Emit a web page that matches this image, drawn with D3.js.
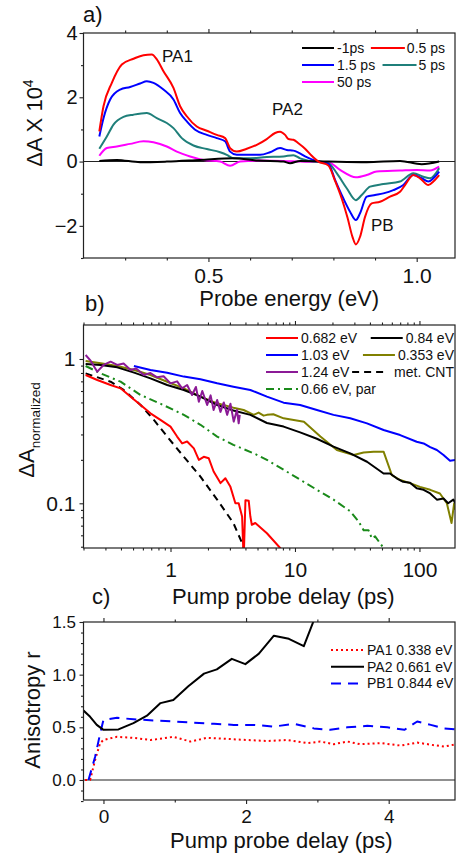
<!DOCTYPE html>
<meta charset="utf-8">

<style>

body {
  margin: 0;
  background: #fff;
}

svg.fig text {
  font-family: "Liberation Sans", Arial, sans-serif;
  fill: #111;
}

svg.fig .frame {
  fill: none;
  stroke: #222;
  stroke-width: 1.2;
}

svg.fig .axis path {
  display: none;
}

svg.fig .axis line {
  stroke: #222;
  stroke-width: 1.1;
}

svg.fig .curve {
  fill: none;
  stroke-width: 2;
  stroke-linejoin: round;
}

</style>


<svg class="fig" width="456" height="859"></svg>


<script src="https://d3js.org/d3.v7.min.js"></script>

<script>

// ---- panel a: transient spectra, [probe energy (eV), dA x 1e4]
var specM1 = [[0.238,0.02],[0.28,0.05],[0.336,-0.02],[0.4,0.0],[0.48,0.05],[0.56,0.1],[0.62,0.03],[0.68,0.0],[0.696,-0.05],[0.72,0.02],[0.788,0.0],[0.88,-0.02],[0.96,0.02],[1.012,-0.08],[1.054,0.0]];
var spec05 = [[0.238,0.94],[0.248,1.72],[0.268,2.45],[0.292,3.02],[0.32,3.2],[0.344,3.31],[0.364,3.33],[0.376,3.18],[0.392,2.81],[0.416,2.29],[0.432,1.72],[0.448,1.41],[0.472,1.09],[0.496,0.96],[0.52,0.83],[0.54,0.73],[0.552,0.42],[0.568,0.31],[0.592,0.40],[0.616,0.52],[0.64,0.70],[0.66,0.89],[0.672,0.93],[0.684,0.83],[0.692,0.70],[0.704,0.68],[0.716,0.57],[0.732,0.40],[0.748,0.18],[0.764,0.0],[0.788,-0.12],[0.804,-0.6],[0.82,-1.15],[0.834,-1.75],[0.846,-2.35],[0.854,-2.58],[0.864,-2.34],[0.876,-1.72],[0.892,-1.30],[0.912,-1.25],[0.936,-1.09],[0.96,-0.94],[0.972,-0.73],[0.992,-0.42],[1.008,-0.52],[1.028,-0.73],[1.04,-0.62],[1.054,-0.42]];
var spec15 = [[0.238,0.78],[0.248,1.35],[0.264,1.93],[0.288,2.24],[0.312,2.32],[0.336,2.43],[0.352,2.5],[0.368,2.45],[0.392,2.24],[0.416,1.93],[0.432,1.51],[0.448,1.25],[0.468,0.99],[0.496,0.83],[0.52,0.73],[0.54,0.63],[0.552,0.31],[0.568,0.21],[0.592,0.21],[0.624,0.21],[0.648,0.29],[0.672,0.42],[0.688,0.36],[0.704,0.34],[0.716,0.28],[0.732,0.16],[0.756,0.03],[0.788,-0.07],[0.804,-0.57],[0.824,-1.15],[0.84,-1.56],[0.854,-1.82],[0.864,-1.61],[0.88,-1.09],[0.9,-1.04],[0.92,-0.99],[0.944,-0.89],[0.968,-0.73],[0.992,-0.42],[1.012,-0.52],[1.028,-0.62],[1.04,-0.52],[1.054,-0.31]];
var spec5 = [[0.238,0.4],[0.256,0.78],[0.272,1.15],[0.296,1.39],[0.32,1.46],[0.352,1.51],[0.376,1.35],[0.4,1.2],[0.416,1.04],[0.436,0.73],[0.464,0.5],[0.496,0.39],[0.528,0.29],[0.544,0.21],[0.56,0.10],[0.592,0.10],[0.64,0.14],[0.68,0.16],[0.704,0.2],[0.72,0.1],[0.744,0.02],[0.788,-0.05],[0.808,-0.36],[0.832,-0.83],[0.854,-1.2],[0.868,-1.04],[0.888,-0.78],[0.92,-0.70],[0.96,-0.62],[0.992,-0.36],[1.016,-0.47],[1.032,-0.52],[1.054,-0.21]];
var spec50 = [[0.238,0.18],[0.256,0.42],[0.28,0.47],[0.312,0.55],[0.344,0.63],[0.368,0.6],[0.4,0.47],[0.424,0.31],[0.456,0.16],[0.488,0.05],[0.528,0.0],[0.552,-0.13],[0.576,0.0],[0.624,0.03],[0.68,0.02],[0.72,0.0],[0.788,-0.02],[0.816,-0.26],[0.854,-0.49],[0.88,-0.42],[0.904,-0.31],[0.96,-0.28],[1.0,-0.26],[1.032,-0.28],[1.054,-0.16]];

var specNames = ["-1ps", "0.5 ps", "1.5 ps", "5 ps", "50 ps"];
var specColors = ["#000000", "#ff0000", "#0000ff", "#1f7f7a", "#ff00ff"];
var specData = [specM1, spec05, spec15, spec5, spec50];

var energyTicks = [0.5, 1.0];
var energyMinor = [0.3, 0.4, 0.6, 0.7, 0.8, 0.9];
var dATicks = [-2, 0, 2, 4];
var dAMinor = [-3, -1, 1, 3];

// ---- panel b: normalized kinetics, [delay (ps), dA normalized]
var kin682 = [[0.208,0.774],[0.258,0.715],[0.33,0.66],[0.397,0.626],[0.478,0.548],[0.575,0.48],[0.69,0.42],[0.83,0.378],[1.0,0.34],[1.13,0.29],[1.24,0.26],[1.36,0.268],[1.54,0.24],[1.69,0.2],[1.85,0.21],[2.03,0.205],[2.22,0.166],[2.52,0.138],[2.76,0.149],[3.03,0.13],[3.32,0.1],[3.53,0.1],[3.76,0.081],[3.87,0.04],[4.0,0.105],[4.25,0.104],[4.38,0.081],[4.5,0.071],[4.8,0.073],[5.95,0.062],[7.6,0.049],[8.5,0.044]];
var kin84 = [[0.208,0.923],[0.275,0.91],[0.373,0.875],[0.51,0.804],[0.69,0.734],[0.94,0.66],[1.28,0.61],[1.74,0.548],[2.37,0.48],[3.2,0.44],[4.38,0.41],[5.95,0.36],[8.1,0.34],[11,0.31],[15,0.28],[20.4,0.247],[27.8,0.222],[37.9,0.194],[51.5,0.161],[58,0.161],[65.6,0.149],[74,0.141],[84,0.139],[95,0.127],[108,0.124],[122,0.117],[138,0.106],[156,0.108],[170,0.1],[187,0.106],[195,0.1]];
var kin103 = [[0.508,0.894],[0.69,0.839],[0.94,0.804],[1.28,0.755],[1.74,0.723],[2.37,0.678],[3.2,0.643],[4.38,0.61],[5.95,0.548],[8.1,0.498],[11,0.48],[15,0.443],[20.4,0.41],[27.8,0.388],[37.9,0.358],[51.5,0.322],[70,0.297],[95,0.267],[108,0.26],[122,0.245],[138,0.234],[156,0.216],[176,0.197],[195,0.2]];
var kin353 = [[0.208,0.968],[0.275,0.933],[0.373,0.895],[0.51,0.839],[0.69,0.775],[0.94,0.696],[1.28,0.626],[1.74,0.548],[2.37,0.493],[3.2,0.46],[3.87,0.443],[4.66,0.41],[5.1,0.425],[5.6,0.405],[5.95,0.41],[6.7,0.414],[8.1,0.388],[11.8,0.368],[16,0.29],[21.7,0.234],[29.6,0.216],[35.6,0.225],[42.8,0.228],[51.5,0.228],[60,0.157],[70,0.145],[84,0.138],[101,0.13],[122,0.124],[146,0.117],[166,0.1],[181,0.073],[190,0.1],[195,0.09]];
var kin124 = [[0.208,1.066],[0.228,0.973],[0.258,0.817],[0.29,0.909],[0.33,0.958],[0.373,0.909],[0.42,0.93],[0.478,0.839],[0.53,0.86],[0.61,0.775],[0.69,0.8],[0.78,0.746],[0.88,0.76],[1.0,0.678],[1.13,0.7],[1.24,0.626],[1.36,0.66],[1.49,0.563],[1.6,0.64],[1.69,0.506],[1.8,0.6],[1.97,0.48],[2.1,0.56],[2.22,0.443],[2.37,0.52],[2.52,0.43],[2.68,0.5],[2.85,0.41],[3.03,0.49],[3.22,0.368],[3.42,0.443],[3.53,0.358],[3.6,0.41]];
var kinCNT = [[0.208,0.795],[0.33,0.696],[0.42,0.61],[0.575,0.48],[0.735,0.378],[0.94,0.29],[1.28,0.21],[1.74,0.153],[2.37,0.106],[3.2,0.073],[3.76,0.053],[4.0,0.046]];
var kinPar = [[0.208,0.894],[0.275,0.795],[0.397,0.696],[0.575,0.563],[0.83,0.49],[1.28,0.41],[1.74,0.35],[2.37,0.29],[3.2,0.254],[4.66,0.222],[5.95,0.2],[9.2,0.16],[15,0.124],[20.4,0.106],[27.8,0.088],[32.4,0.075],[35.6,0.065],[39,0.065],[41.5,0.057],[44,0.059],[51.5,0.049],[55,0.045]];

var kinNames = ["0.682 eV", "0.84 eV", "1.03 eV", "0.353 eV", "1.24 eV", "met. CNT", "0.66 eV, par"];
var kinColors = ["#ff0000", "#000000", "#0000ff", "#808000", "#8b1a96", "#000000", "#1a8a1a"];
var kinDash = [null, null, null, null, null, "7,5", "8,4,2,4"];
var kinData = [kin682, kin84, kin103, kin353, kin124, kinCNT, kinPar];
var kinDrawOrder = [3, 1, 2, 6, 5, 0, 4];

var delayTicks = [1, 10, 100];
var delayMinor = [0.2,0.3,0.4,0.5,0.6,0.7,0.8,0.9,2,3,4,5,6,7,8,9,20,30,40,50,60,70,80,90];
var normTicks = [0.1, 1];
var normMinor = [0.05,0.06,0.07,0.08,0.09,0.2,0.3,0.4,0.5,0.6,0.7,0.8,0.9];

// ---- panel c: anisotropy, [delay (ps), r]
var aniPA1 = [[-0.258,0.0],[-0.187,0.0],[-0.117,0.19],[-0.047,0.35],[0.0,0.38],[0.19,0.41],[0.42,0.40],[0.66,0.38],[0.89,0.40],[0.98,0.41],[1.22,0.365],[1.45,0.40],[1.73,0.39],[2.01,0.38],[2.3,0.37],[2.58,0.38],[2.86,0.35],[3.04,0.365],[3.23,0.34],[3.42,0.365],[3.6,0.34],[3.89,0.35],[4.17,0.327],[4.4,0.355],[4.64,0.33],[4.78,0.317],[4.95,0.34]];
var aniPA2 = [[-0.28,0.66],[-0.187,0.60],[-0.094,0.523],[0.0,0.476],[0.21,0.48],[0.42,0.54],[0.61,0.61],[0.8,0.73],[0.98,0.76],[1.19,0.89],[1.41,1.01],[1.59,1.05],[1.8,1.15],[1.99,1.10],[2.18,1.2],[2.39,1.37],[2.6,1.34],[2.81,1.27],[2.97,1.55]];
var aniPB1 = [[-0.21,0.0],[-0.117,0.22],[-0.047,0.44],[0.0,0.57],[0.19,0.59],[0.42,0.577],[0.70,0.565],[0.98,0.555],[1.26,0.545],[1.55,0.533],[1.83,0.523],[2.11,0.523],[2.39,0.507],[2.67,0.533],[2.95,0.49],[3.18,0.476],[3.42,0.50],[3.7,0.514],[3.98,0.50],[4.22,0.476],[4.4,0.555],[4.59,0.523],[4.78,0.49],[4.95,0.48]];

var aniNames = ["PA1 0.338 eV", "PA2 0.661 eV", "PB1 0.844 eV"];
var aniColors = ["#ff0000", "#000000", "#0000ff"];
var aniDash = ["2,3", null, "10,7"];
var aniData = [aniPA1, aniPA2, aniPB1];

var timeTicks = [0, 2, 4];
var timeMinor = [1, 3];
var rTicks = [0.0, 0.5, 1.0, 1.5];
var rMinor = [-0.2,-0.1,0.1,0.2,0.3,0.4,0.6,0.7,0.8,0.9,1.1,1.2,1.3,1.4];


var svg = d3.select("svg.fig");
var left = 83.5, right = 455;

function frameAndClip(id, top, bottom) {
  svg.append("clipPath").attr("id", id)
    .append("rect")
    .attr("x", left).attr("y", top)
    .attr("width", right - left).attr("height", bottom - top);
  return svg.append("g").attr("clip-path", `url(#${id})`);
}

function drawAxes(x, y, top, bottom, opt) {
  // left, major + minor
  svg.append("g").attr("class", "axis")
    .attr("transform", `translate(${left},0)`)
    .call(d3.axisLeft(y).tickValues(opt.yTicks).tickSize(4).tickPadding(opt.yPad).tickFormat(opt.yFmt))
    .selectAll("text").style("font-size", opt.yFont + "px");
  svg.append("g").attr("class", "axis")
    .attr("transform", `translate(${left},0)`)
    .call(d3.axisLeft(y).tickValues(opt.yMinor).tickSize(2.5).tickFormat(""));

  // bottom, major + minor
  svg.append("g").attr("class", "axis")
    .attr("transform", `translate(0,${bottom})`)
    .call(d3.axisBottom(x).tickValues(opt.xTicks).tickSize(4).tickPadding(opt.xPad).tickFormat(opt.xFmt))
    .selectAll("text").style("font-size", opt.xFont + "px");
  svg.append("g").attr("class", "axis")
    .attr("transform", `translate(0,${bottom})`)
    .call(d3.axisBottom(x).tickValues(opt.xMinor).tickSize(2.5).tickFormat(""));

  // mirrored top ticks
  svg.append("g").attr("class", "axis")
    .attr("transform", `translate(0,${top})`)
    .call(d3.axisTop(x).tickValues(opt.xTicks).tickSize(4).tickFormat(""));
  svg.append("g").attr("class", "axis")
    .attr("transform", `translate(0,${top})`)
    .call(d3.axisTop(x).tickValues(opt.xMinor).tickSize(2.5).tickFormat(""));

  svg.append("rect").attr("class", "frame")
    .attr("x", left).attr("y", top)
    .attr("width", right - left).attr("height", bottom - top);
}

function legendLine(x1, x2, y, color, dash) {
  svg.append("line")
    .attr("x1", x1).attr("x2", x2).attr("y1", y).attr("y2", y)
    .attr("stroke", color).attr("stroke-width", 2)
    .attr("stroke-dasharray", dash);
}

function legendText(x, y, label, anchor) {
  return svg.append("text")
    .attr("x", x).attr("y", y + 5)
    .attr("text-anchor", anchor)
    .style("font-size", "14px")
    .text(label);
}

// ================= panel a =================
var aTop = 33, aBottom = 258;
var xA = d3.scaleLinear().domain([0.2, 1.092]).range([left, right]);
var yA = d3.scaleLinear().domain([-3, 4]).range([aBottom, aTop]);

var gA = frameAndClip("clipA", aTop, aBottom);
gA.append("line")
  .attr("x1", left).attr("x2", right)
  .attr("y1", yA(0)).attr("y2", yA(0))
  .attr("stroke", "#222").attr("stroke-width", 1.1);

var lineA = d3.line()
  .x(function(d) { return xA(d[0]); })
  .y(function(d) { return yA(d[1]); })
  .curve(d3.curveMonotoneX);

[4, 3, 2, 0, 1].forEach(function(i) {
  gA.append("path").attr("class", "curve")
    .attr("stroke", specColors[i])
    .attr("d", lineA(specData[i]));
});

drawAxes(xA, yA, aTop, aBottom, {
  yTicks: dATicks, yMinor: dAMinor, yPad: 2, yFont: 20, yFmt: d3.format("d"),
  xTicks: energyTicks, xMinor: energyMinor, xPad: 6, xFont: 21, xFmt: d3.format(".1f")
});

svg.append("text").attr("x", 83).attr("y", 22).style("font-size", "22px").text("a)");
svg.append("text").attr("x", 162).attr("y", 62).style("font-size", "17px").text("PA1");
svg.append("text").attr("x", 272).attr("y", 115).style("font-size", "17px").text("PA2");
svg.append("text").attr("x", 371).attr("y", 231).style("font-size", "17px").text("PB");

var yTitleA = svg.append("text")
  .attr("transform", "translate(42,123) rotate(-90)")
  .attr("text-anchor", "middle")
  .style("font-size", "22px");
yTitleA.append("tspan").text("\u0394A X 10");
yTitleA.append("tspan").attr("dy", -9).style("font-size", "14px").text("4");

svg.append("text")
  .attr("x", (left + right) / 2 + 20).attr("y", 306)
  .attr("text-anchor", "middle")
  .style("font-size", "22px")
  .text("Probe energy (eV)");

// legend a: two columns, second column right aligned
specNames.forEach(function(name, i) {
  var row = Math.floor(i / 2), col = i % 2;
  var y = 48 + row * 17;
  if (col === 0) {
    legendLine(302, 334, y, specColors[i]);
    legendText(337, y, name, "start");
  } else {
    var t = legendText(445, y, name, "end");
    var x0 = 445 - t.node().getComputedTextLength();
    legendLine(x0 - 36, x0 - 2, y, specColors[i]);
  }
});

// ================= panel b =================
var bTop = 325, bBottom = 548;
var xB = d3.scaleLog().domain([0.2, 193]).range([left, right]);
var yB = d3.scaleLog().domain([0.049, 1.72]).range([bBottom, bTop]);

var gB = frameAndClip("clipB", bTop, bBottom);
var lineB = d3.line()
  .x(function(d) { return xB(d[0]); })
  .y(function(d) { return yB(d[1]); });

kinDrawOrder.forEach(function(i) {
  gB.append("path").attr("class", "curve")
    .attr("stroke", kinColors[i])
    .attr("stroke-dasharray", kinDash[i])
    .attr("d", lineB(kinData[i]));
});

drawAxes(xB, yB, bTop, bBottom, {
  yTicks: normTicks, yMinor: normMinor, yPad: 4, yFont: 21, yFmt: function(d) { return d >= 1 ? "1" : "0.1"; },
  xTicks: delayTicks, xMinor: delayMinor, xPad: 10, xFont: 21, xFmt: d3.format("d")
});

svg.append("text").attr("x", 85).attr("y", 311).style("font-size", "22px").text("b)");

var yTitleB = svg.append("text")
  .attr("transform", "translate(34,430) rotate(-90)")
  .attr("text-anchor", "middle")
  .style("font-size", "22px");
yTitleB.append("tspan").text("\u0394A");
yTitleB.append("tspan").attr("dy", 6).style("font-size", "13.5px").text("normalized");

svg.append("text").attr("x", 92).attr("y", 604).style("font-size", "22px").text("c)");
svg.append("text")
  .attr("x", (left + right) / 2 + 14).attr("y", 604)
  .attr("text-anchor", "middle")
  .style("font-size", "22px")
  .text("Pump probe delay (ps)");

// legend b
var kinLegendOrder = [0, 1, 2, 3, 4, 5, 6];
kinLegendOrder.forEach(function(i, k) {
  var row = Math.floor(k / 2), col = k % 2;
  var y = 338 + row * 17;
  if (col === 0) {
    legendLine(266, 298, y, kinColors[i], kinDash[i]);
    legendText(301, y, kinNames[i], "start");
  } else {
    var t = legendText(454, y, kinNames[i], "end");
    var x0 = 454 - t.node().getComputedTextLength();
    var gap = kinDash[i] ? 10 : 3;
    legendLine(x0 - gap - 32, x0 - gap, y, kinColors[i], kinDash[i]);
  }
});

// ================= panel c =================
var cTop = 622, cBottom = 800;
var xC = d3.scaleLinear().domain([-0.28, 4.93]).range([left, right]);
var yC = d3.scaleLinear().domain([-0.19, 1.5]).range([cBottom, cTop]);

var gC = frameAndClip("clipC", cTop, cBottom);
gC.append("line")
  .attr("x1", left).attr("x2", right)
  .attr("y1", yC(0)).attr("y2", yC(0))
  .attr("stroke", "#222").attr("stroke-width", 1.1);

var lineC = d3.line()
  .x(function(d) { return xC(d[0]); })
  .y(function(d) { return yC(d[1]); });

[0, 2, 1].forEach(function(i) {
  gC.append("path").attr("class", "curve")
    .attr("stroke", aniColors[i])
    .attr("stroke-dasharray", aniDash[i])
    .attr("d", lineC(aniData[i]));
});

drawAxes(xC, yC, cTop, cBottom, {
  yTicks: rTicks, yMinor: rMinor, yPad: 3.5, yFont: 17, yFmt: d3.format(".1f"),
  xTicks: timeTicks, xMinor: timeMinor, xPad: 6, xFont: 19, xFmt: d3.format("d")
});

svg.append("text")
  .attr("transform", "translate(40,710) rotate(-90)")
  .attr("text-anchor", "middle")
  .style("font-size", "22px")
  .text("Anisotropy r");

svg.append("text")
  .attr("x", (left + right) / 2 + 12).attr("y", 848)
  .attr("text-anchor", "middle")
  .style("font-size", "22px")
  .text("Pump probe delay (ps)");

// legend c
aniNames.forEach(function(name, i) {
  var y = 650 + i * 16.7;
  legendLine(331, 364, y, aniColors[i], aniDash[i]);
  legendText(367, y, name, "start");
});

</script>
